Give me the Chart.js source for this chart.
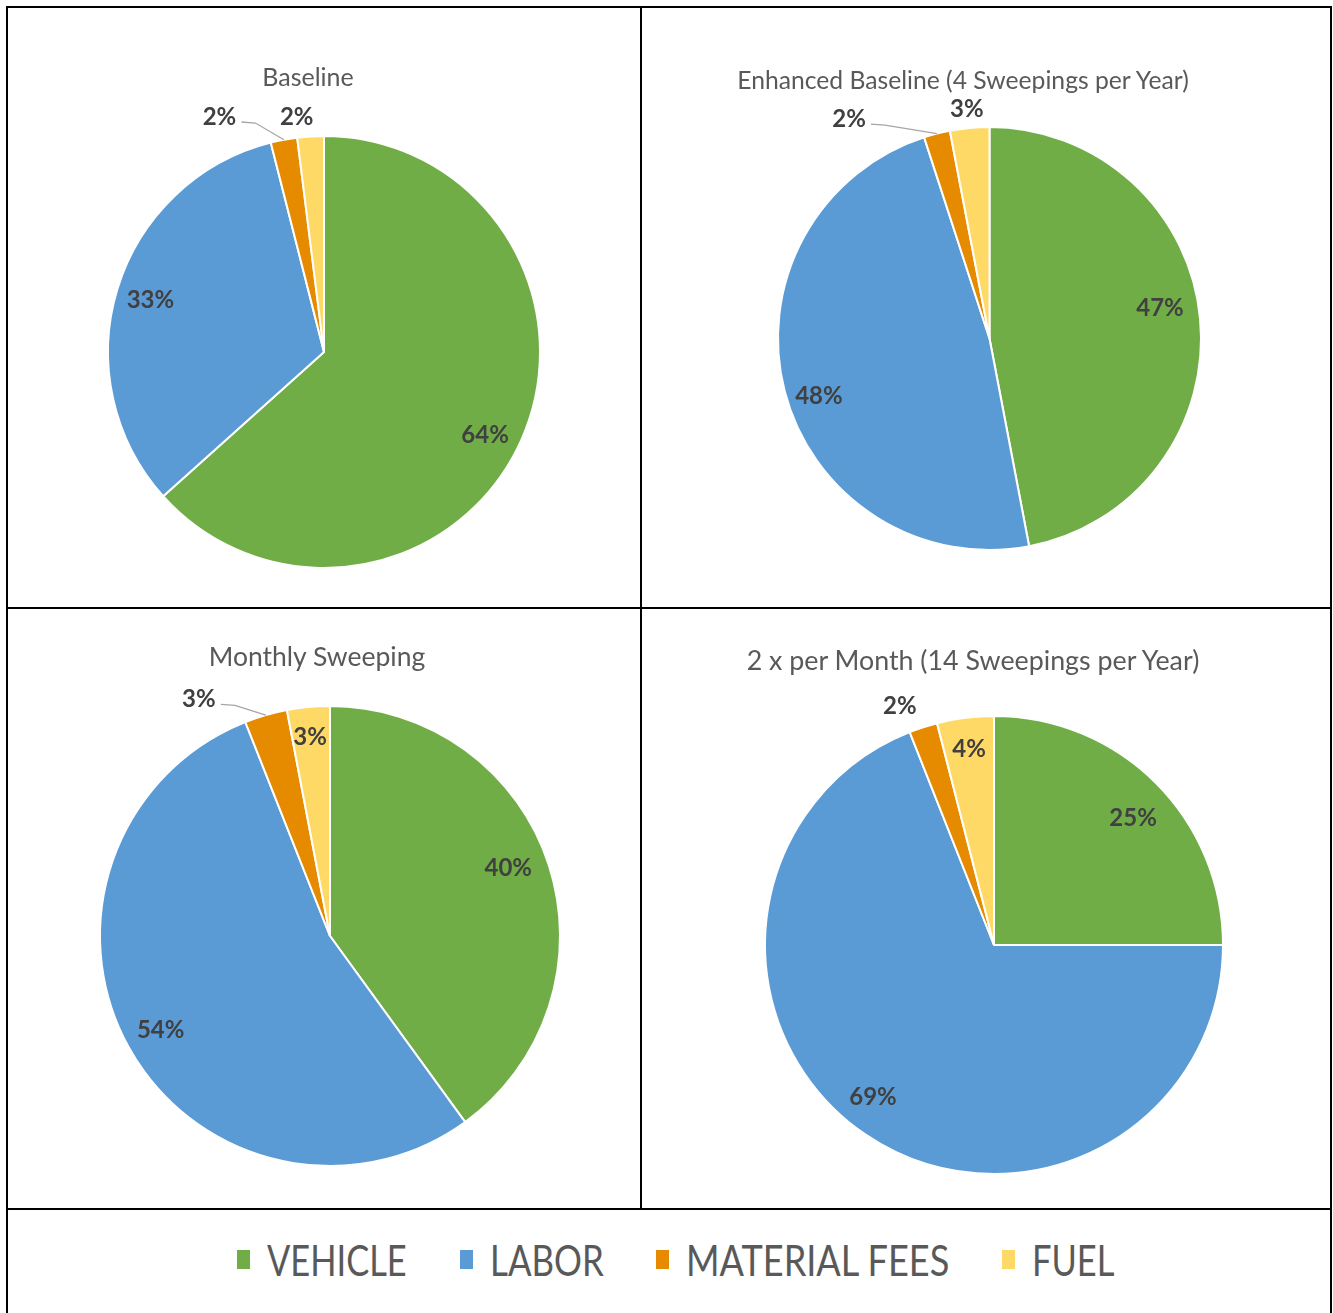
<!DOCTYPE html>
<html lang="en">
<head>
  <meta charset="UTF-8">
  <title>Sweeping cost breakdown</title>
  <style>
    body { margin: 0; background: #fff; font-family: Lato, "Open Sans", sans-serif; }
    #frame { position: relative; width: 1333px; height: 1313px; overflow: hidden; }
    .rule { position: absolute; background: #000; }
    .cell { position: absolute; }
    .cell canvas { position: absolute; left: 0; top: 0; }
    .title { position: absolute; width: 640px; text-align: center; color: #595959;
             line-height: 30px; white-space: nowrap; }
    .key { position: absolute; top: 1250px; width: 13px; height: 19px; }
    .key-text { position: absolute; top: 1237px; font-size: 42px; line-height: 46px; color: #595959;
                white-space: nowrap; transform-origin: 0 50%; }
  </style>
</head>
<body>
<div id="frame">
  <!-- grid rules -->
  <div class="rule" style="left:6px;top:6px;width:1326px;height:2px"></div>
  <div class="rule" style="left:6px;top:607px;width:1326px;height:2px"></div>
  <div class="rule" style="left:6px;top:1208px;width:1326px;height:2px"></div>
  <div class="rule" style="left:6px;top:6px;width:2px;height:1307px"></div>
  <div class="rule" style="left:640px;top:6px;width:2px;height:1204px"></div>
  <div class="rule" style="left:1330px;top:6px;width:2px;height:1307px"></div>

  <div class="cell" style="left:8px;top:8px;width:632px;height:599px"><canvas id="c0" width="632" height="599"></canvas></div>
  <div class="cell" style="left:642px;top:8px;width:688px;height:599px"><canvas id="c1" width="688" height="599"></canvas></div>
  <div class="cell" style="left:8px;top:609px;width:632px;height:599px"><canvas id="c2" width="632" height="599"></canvas></div>
  <div class="cell" style="left:642px;top:609px;width:688px;height:599px"><canvas id="c3" width="688" height="599"></canvas></div>

  <div class="title" style="left:-12px;top:61px;font-size:25px">Baseline</div>
  <div class="title" style="left:643px;top:65px;font-size:24.7px">Enhanced Baseline (4 Sweepings per Year)</div>
  <div class="title" style="left:-3px;top:641px;font-size:26.5px">Monthly Sweeping</div>
  <div class="title" style="left:653px;top:645px;font-size:26.8px">2 x per Month (14 Sweepings per Year)</div>

  <div id="legend"></div>
</div>

<script src="https://cdn.jsdelivr.net/npm/chart.js"></script>
<script>
  // cost categories and their slice colours
  const categories = ['VEHICLE', 'LABOR', 'MATERIAL FEES', 'FUEL'];
  const sliceColors = ['#70AD47', '#5B9BD5', '#E68A00', '#FFD966'];

  // percent share of each category per sweeping scenario
  const baseline = [64, 33, 2, 2];
  const enhancedBaseline = [47, 48, 2, 3];
  const monthlySweeping = [40, 54, 3, 3];
  const twicePerMonth = [25, 69, 2, 4];

  // label placement: angle (deg clockwise from top, null = slice middle), distance as share of radius
  const pies = [
    { id: 'c0', data: baseline, radius: 216, pad: { left: 100, right: 100, top: 128, bottom: 39 },
      places: [{ angle: 117, dist: 0.837 }, { angle: null, dist: 0.84 },
               { angle: 336.1, dist: 1.195, leader: true }, { angle: 353.4, dist: 1.10 }] },
    { id: 'c1', data: enhancedBaseline, radius: 211.5, pad: { left: 136, right: 129, top: 119, bottom: 57 },
      places: [{ angle: 79.5, dist: 0.82 }, { angle: 251.6, dist: 0.85 },
               { angle: 327.5, dist: 1.236, leader: true }, { angle: 354.4, dist: 1.095 }] },
    { id: 'c2', data: monthlySweeping, radius: 230, pad: { left: 92, right: 80, top: 97, bottom: 42 },
      places: [{ angle: 69, dist: 0.83 }, { angle: null, dist: 0.84 },
               { angle: 331.1, dist: 1.18, leader: true }, { angle: 354.3, dist: 0.874 }] },
    { id: 'c3', data: twicePerMonth, radius: 229, pad: { left: 123, right: 107, top: 107, bottom: 34 },
      places: [{ angle: 47.4, dist: 0.825 }, { angle: 218.7, dist: 0.845 },
               { angle: 338.6, dist: 1.126 }, { angle: 352.8, dist: 0.867 }] }
  ];

  // draws the percentage on each slice, with a leader line for pulled-out labels
  const sliceLabels = {
    id: 'sliceLabels',
    afterDatasetsDraw(chart, args, opts) {
      const ctx = chart.ctx;
      const meta = chart.getDatasetMeta(0);
      const values = chart.data.datasets[0].data;
      ctx.save();
      ctx.font = 'bold 24px Lato';
      ctx.fillStyle = '#404040';
      ctx.textAlign = 'center';
      ctx.textBaseline = 'middle';
      meta.data.forEach((arc, i) => {
        const p = opts.places[i];
        const mid = (arc.startAngle + arc.endAngle) / 2;
        const a = p.angle == null ? mid : p.angle * Math.PI / 180 - Math.PI / 2;
        const r = arc.outerRadius * p.dist;
        const x = arc.x + Math.cos(a) * r;
        const y = arc.y + Math.sin(a) * r;
        if (p.leader) {
          const ex = arc.x + Math.cos(mid) * arc.outerRadius;
          const ey = arc.y + Math.sin(mid) * arc.outerRadius;
          ctx.strokeStyle = '#a6a6a6';
          ctx.lineWidth = 1.3;
          ctx.beginPath();
          ctx.moveTo(x + 22, y + 6);
          ctx.lineTo(x + 36, y + 7);
          ctx.lineTo(ex, ey);
          ctx.stroke();
        }
        ctx.fillText(values[i] + '%', x, y + 1);
      });
      ctx.restore();
    }
  };

  pies.forEach(p => {
    new Chart(document.getElementById(p.id), {
      type: 'pie',
      data: {
        labels: categories,
        datasets: [{
          data: p.data,
          backgroundColor: sliceColors,
          borderColor: '#ffffff',
          borderWidth: 2,
          hoverOffset: 0
        }]
      },
      options: {
        responsive: false,
        animation: false,
        radius: p.radius,
        layout: { padding: p.pad },
        events: [],
        plugins: {
          legend: { display: false },
          tooltip: { enabled: false },
          title: { display: false },
          sliceLabels: { places: p.places }
        }
      },
      plugins: [sliceLabels]
    });
  });

  // shared legend under the grid
  const legendX = [237, 460, 656, 1002];
  const legendStretch = [0.82, 0.83, 0.86, 0.82];
  const legend = document.getElementById('legend');
  categories.forEach((name, i) => {
    const key = document.createElement('div');
    key.className = 'key';
    key.style.left = legendX[i] + 'px';
    key.style.background = sliceColors[i];
    legend.appendChild(key);
    const txt = document.createElement('div');
    txt.className = 'key-text';
    txt.style.left = (legendX[i] + 30) + 'px';
    txt.style.transform = 'scaleX(' + legendStretch[i] + ')';
    txt.textContent = name;
    legend.appendChild(txt);
  });
</script>
</body>
</html>
